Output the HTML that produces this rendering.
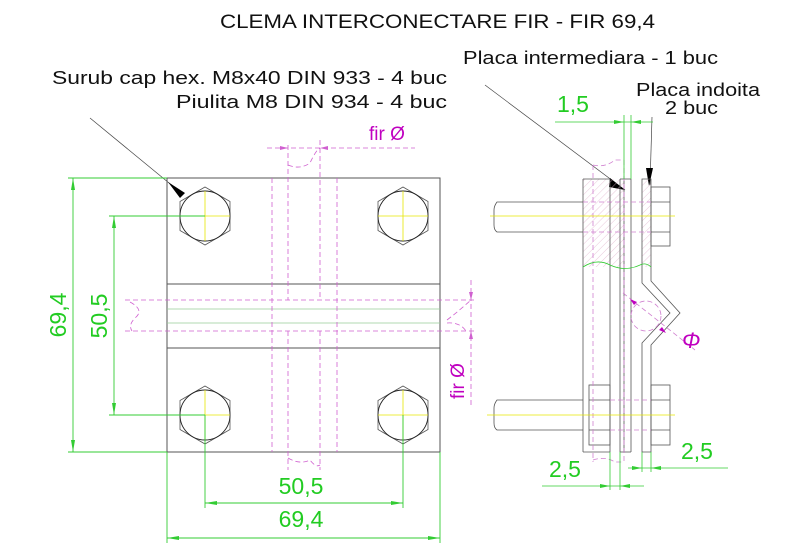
<!DOCTYPE html>
<html><head><meta charset="utf-8"><style>
html,body{margin:0;padding:0;background:#fff;}
svg{display:block;}
text{font-family:"Liberation Sans",Arial,sans-serif;}
</style></head><body>
<svg width="800" height="547" viewBox="0 0 800 547" xmlns="http://www.w3.org/2000/svg">
<defs>
<pattern id="h" width="5" height="5" patternUnits="userSpaceOnUse" patternTransform="rotate(45)">
<line x1="0" y1="0" x2="0" y2="5" stroke="#e0b0cc" stroke-width="0.7"/>
</pattern>
<symbol id="bolt" viewBox="-30 -30 60 60" overflow="visible">
<polygon points="0,-29 25,-14.5 25,14.5 0,29 -25,14.5 -25,-14.5" fill="none" stroke="#555" stroke-width="0.8"/>
<circle r="25" fill="none" stroke="#222" stroke-width="0.9"/>
<line x1="-25" y1="0" x2="25" y2="0" stroke="#e6e600" stroke-width="0.8"/>
<line x1="0" y1="-25" x2="0" y2="25" stroke="#e6e600" stroke-width="0.8"/>
</symbol>
</defs>
<text x="220" y="28" font-size="19" fill="#111" textLength="435" lengthAdjust="spacingAndGlyphs">CLEMA INTERCONECTARE FIR - FIR 69,4</text>
<text x="463" y="64" font-size="18" fill="#111" textLength="255" lengthAdjust="spacingAndGlyphs">Placa intermediara - 1 buc</text>
<text x="52" y="84" font-size="18" fill="#111" textLength="395" lengthAdjust="spacingAndGlyphs">Surub cap hex. M8x40 DIN 933 - 4 buc</text>
<text x="176" y="108" font-size="18" fill="#111" textLength="271" lengthAdjust="spacingAndGlyphs">Piulita M8 DIN 934 - 4 buc</text>
<text x="636" y="96" font-size="18" fill="#111" textLength="124" lengthAdjust="spacingAndGlyphs">Placa indoita</text>
<text x="665" y="114" font-size="18" fill="#111" textLength="53" lengthAdjust="spacingAndGlyphs">2 buc</text>

<line x1="90" y1="118" x2="180" y2="192" stroke="#444" stroke-width="0.7"/>
<polygon points="168,182 185,193 180,198" fill="#000"/>
<line x1="485" y1="85" x2="625" y2="190" stroke="#444" stroke-width="0.7"/>
<polygon points="610,178 625,190 609,187" fill="#000"/>
<line x1="652" y1="117" x2="650" y2="185" stroke="#444" stroke-width="0.7"/>
<polygon points="646,168 653,168 649,186" fill="#000"/>

<rect x="167" y="178" width="273" height="274" fill="none" stroke="#555" stroke-width="1"/>
<line x1="167" y1="284" x2="440" y2="284" stroke="#555" stroke-width="1"/>
<line x1="167" y1="348" x2="440" y2="348" stroke="#555" stroke-width="1"/>
<line x1="167" y1="309" x2="440" y2="309" stroke="#9c9" stroke-width="0.8"/>
<line x1="167" y1="323" x2="440" y2="323" stroke="#9c9" stroke-width="0.8"/>
<g stroke="#d060d0" stroke-width="0.8" stroke-dasharray="5,3" fill="none">
<line x1="272" y1="178" x2="272" y2="452"/>
<line x1="337" y1="178" x2="337" y2="452"/>
<line x1="288" y1="145" x2="288" y2="300"/>
<line x1="320" y1="140" x2="320" y2="300"/>
<line x1="288" y1="331" x2="288" y2="470"/>
<line x1="320" y1="331" x2="320" y2="470"/>
<line x1="125" y1="300" x2="475" y2="300"/>
<line x1="125" y1="331" x2="475" y2="331"/>
<line x1="267" y1="148" x2="415" y2="148"/>
<line x1="471" y1="280" x2="471" y2="408"/>
<path d="M288,165 Q300,170 310,163 Q316,150 320,148"/>
<path d="M130,302 Q145,310 135,318 Q128,325 132,331"/>
<path d="M447,320 Q460,310 471,300 M447,323 Q460,322 466,331"/>
<path d="M288,458 Q300,465 310,460 Q316,468 320,465"/>
</g>
<polygon points="288,148 280,146 280,150" fill="#d060d0"/>
<polygon points="320,148 328,146 328,150" fill="#d060d0"/>
<polygon points="471,300 469,292 473,292" fill="#d060d0"/>
<polygon points="471,331 469,339 473,339" fill="#d060d0"/>
<text x="369" y="140" font-size="19" fill="#c000c0">fir Ø</text>
<text transform="translate(464,399) rotate(-90)" font-size="19" fill="#c000c0">fir Ø</text>
<use href="#bolt" x="175" y="186" width="60" height="60"/>
<use href="#bolt" x="373" y="186" width="60" height="60"/>
<use href="#bolt" x="175" y="385" width="60" height="60"/>
<use href="#bolt" x="373" y="385" width="60" height="60"/>

<g stroke="#33cc33" stroke-width="0.9" fill="none">
<line x1="68" y1="178" x2="167" y2="178"/>
<line x1="68" y1="452" x2="167" y2="452"/>
<line x1="73" y1="178" x2="73" y2="452"/>
<line x1="109" y1="216" x2="205" y2="216"/>
<line x1="109" y1="415" x2="205" y2="415"/>
<line x1="114" y1="216" x2="114" y2="415"/>
<line x1="205" y1="415" x2="205" y2="508"/>
<line x1="403" y1="415" x2="403" y2="508"/>
<line x1="205" y1="503" x2="403" y2="503"/>
<line x1="167" y1="452" x2="167" y2="543"/>
<line x1="440" y1="452" x2="440" y2="543"/>
<line x1="167" y1="538" x2="440" y2="538"/>
</g>
<g fill="#33cc33">
<polygon points="73,178 71,190 75,190"/><polygon points="73,452 71,440 75,440"/>
<polygon points="114,216 112,228 116,228"/><polygon points="114,415 112,403 116,403"/>
<polygon points="205,503 217,501 217,505"/><polygon points="403,503 391,501 391,505"/>
<polygon points="167,538 179,536 179,540"/><polygon points="440,538 428,536 428,540"/>
</g>
<g font-size="23" fill="#22cc22">
<text transform="translate(66,315) rotate(-90)" text-anchor="middle">69,4</text>
<text transform="translate(107,316) rotate(-90)" text-anchor="middle">50,5</text>
<text x="301" y="494" text-anchor="middle">50,5</text>
<text x="301" y="527" text-anchor="middle">69,4</text>
<text x="549" y="477">2,5</text>
<text x="681" y="459">2,5</text>
<text x="557" y="112">1,5</text>
</g>

<rect x="583" y="179" width="27" height="88" fill="url(#h)"/>
<rect x="610" y="179" width="14" height="88" fill="url(#h)"/>
<rect x="642" y="179" width="9" height="88" fill="url(#h)"/>
<g stroke="#555" stroke-width="0.8" fill="none">
<line x1="583" y1="179" x2="583" y2="452"/>
<line x1="610" y1="179" x2="610" y2="452"/>
<line x1="583" y1="179" x2="610" y2="179"/>
<line x1="583" y1="452" x2="610" y2="452"/>
<line x1="620" y1="179" x2="620" y2="452"/>
<line x1="624" y1="179" x2="624" y2="452"/>
<line x1="631" y1="179" x2="631" y2="452"/>
<line x1="620" y1="179" x2="631" y2="179"/>
<line x1="620" y1="452" x2="631" y2="452"/>
<path d="M642,179 L642,283 L670,313 L642,343 L642,452 L651,452 L651,345 L680,313 L651,281 L651,179 Z"/>
<rect x="651" y="187" width="19" height="59"/>
<line x1="651" y1="202" x2="670" y2="202"/><line x1="651" y1="232" x2="670" y2="232"/>
<rect x="651" y="385" width="19" height="60"/>
<line x1="651" y1="400" x2="670" y2="400"/><line x1="651" y1="430" x2="670" y2="430"/>
<path d="M583,202 L497,202 Q494,206 494,210 L494,225 Q494,230 497,232 L583,232"/>
<path d="M583,400 L497,400 Q494,404 494,408 L494,423 Q494,428 497,430 L583,430"/>
<rect x="589" y="385" width="21" height="60"/>
<line x1="589" y1="400" x2="610" y2="400"/><line x1="589" y1="430" x2="610" y2="430"/>
</g>
<g stroke="#d080d0" stroke-width="0.8" stroke-dasharray="5,3" fill="none">
<line x1="593" y1="165" x2="593" y2="462"/>
<line x1="624" y1="160" x2="624" y2="462"/>
<line x1="583" y1="202" x2="651" y2="202"/>
<line x1="583" y1="232" x2="651" y2="232"/>
<line x1="610" y1="400" x2="651" y2="400"/>
<line x1="610" y1="430" x2="651" y2="430"/>
<circle cx="646" cy="316" r="15"/>
<line x1="623" y1="293" x2="695" y2="350"/>
<path d="M593,165 Q605,168 615,160 L624,160"/>
<path d="M593,460 Q605,456 615,462 L624,462"/>
</g>
<polygon points="630,299 637,302 634,305" fill="#c000c0"/>
<polygon points="666,333 659,330 662,327" fill="#c000c0"/>
<text x="682" y="348" font-size="22" fill="#c000c0" font-style="italic">Φ</text>
<g stroke="#33cc33" stroke-width="0.8" fill="none">
<line x1="490" y1="216" x2="675" y2="216" stroke="#e6e600"/>
<line x1="487" y1="415" x2="675" y2="415" stroke="#e6e600"/>
<path d="M583,267 Q597,258 610,265 Q625,272 640,265 Q646,262 651,267"/>
<line x1="624" y1="115" x2="624" y2="179"/>
<line x1="631" y1="115" x2="631" y2="179"/>
<line x1="555" y1="122" x2="653" y2="122"/>
<line x1="610" y1="452" x2="610" y2="490"/>
<line x1="620" y1="452" x2="620" y2="490"/>
<line x1="542" y1="486" x2="644" y2="486"/>
<line x1="642" y1="452" x2="642" y2="472"/>
<line x1="651" y1="452" x2="651" y2="472"/>
<line x1="628" y1="468" x2="728" y2="468"/>
</g>
<g fill="#33cc33">
<polygon points="624,122 614,120 614,124"/><polygon points="631,122 641,120 641,124"/>
<polygon points="610,486 600,484 600,488"/><polygon points="620,486 630,484 630,488"/>
<polygon points="642,468 632,466 632,470"/><polygon points="651,468 661,466 661,470"/>
</g>
</svg>
</body></html>
